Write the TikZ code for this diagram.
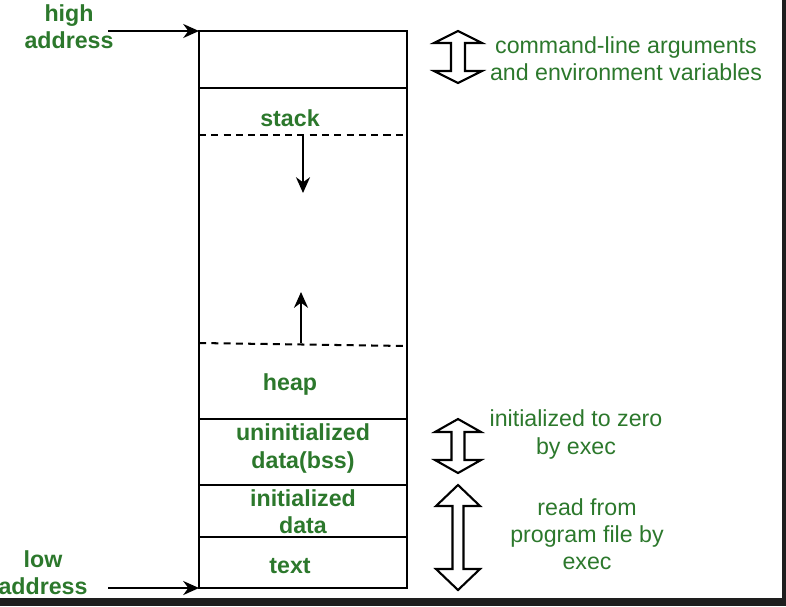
\documentclass[tikz,border=0pt]{standalone}
\usepackage{fontspec}
\setmainfont{Liberation Sans}
\usetikzlibrary{arrows.meta}

\definecolor{lblgreen}{RGB}{44,120,44}
\definecolor{edgedark}{RGB}{30,30,30}

% double flèche creuse : x, haut, bas, demi-largeur tête, demi-largeur tige, hauteur tête
\newcommand{\hollowDArrow}[6]{%
  \draw[line width=1.2pt, fill=white, line join=miter]
    (#1,#2) -- (#1+#4,#2+#6) -- (#1+#5,#2+#6) -- (#1+#5,#3-#6) -- (#1+#4,#3-#6)
    -- (#1,#3) -- (#1-#4,#3-#6) -- (#1-#5,#3-#6) -- (#1-#5,#2+#6) -- (#1-#4,#2+#6) -- cycle;}

\begin{document}
\begin{tikzpicture}[x=0.02cm, y=-0.02cm,
    seg/.style={line width=1.15pt},
    growarrow/.style={line width=1.15pt, -{Stealth[length=9pt, width=8pt]}},
    boxlbl/.style={text=lblgreen, font=\fontsize{13.2}{15.4}\selectfont\bfseries, align=center, inner sep=0pt},
    sidelbl/.style={text=lblgreen, font=\fontsize{13.2}{15.4}\selectfont, align=center, inner sep=0pt}]

    % --- cadre de l'image ---
    \useasboundingbox (0,0) rectangle (786,606);
    \fill[edgedark] (0,598) rectangle (786,606);
    \fill[edgedark] (782,0) rectangle (786,606);

    % ==============================================================
    % 1. BLOC MEMOIRE
    % ==============================================================
    \coordinate (TopL) at (199,31);    % haut gauche
    \coordinate (BotL) at (199,588);   % bas gauche

    \draw[seg] (199,31) rectangle (407,588);
    \draw[seg] (199,88)  -- (407,88);    % fin arguments
    \draw[seg] (199,419) -- (407,419);   % fin tas
    \draw[seg] (199,485) -- (407,485);   % fin bss
    \draw[seg] (199,537) -- (407,537);   % fin data

    % limites pile / tas (pointillés)
    \draw[seg, dash pattern=on 4pt off 3pt] (199,135) -- (407,135);
    \draw[seg, dash pattern=on 4pt off 3pt] (199,343) -- (407,346);

    % sens de croissance
    \coordinate (StackTop) at (303,135);
    \coordinate (StackEnd) at (303,193);
    \coordinate (HeapTop)  at (301,343);
    \coordinate (HeapEnd)  at (301,292);
    \draw[growarrow] (StackTop) -- (StackEnd);
    \draw[growarrow] (HeapTop) -- (HeapEnd);

    % étiquettes des segments
    \node[boxlbl] (stack) at (290,118.5) {stack};
    \node[boxlbl] (heap)  at (290,384.5) {heap};
    \node[boxlbl] (bss)   at (303,448.5) {uninitialized\\data(bss)};
    \node[boxlbl] (data)  at (303,511.5) {initialized\\data};
    \node[boxlbl] (text)  at (290,566) {text};

    % ==============================================================
    % 2. ADRESSES HAUTE / BASSE
    % ==============================================================
    \node[boxlbl] (high) at (69,26.5)  {high\\address};
    \node[boxlbl] (low)  at (43,572.5) {low\\address};

    \coordinate (HighStart) at (108,31);
    \coordinate (LowStart)  at (108,588);
    \draw[growarrow] (HighStart) -- (TopL);
    \draw[growarrow] (LowStart) -- (BotL);

    % ==============================================================
    % 3. ANNOTATIONS A DROITE
    % ==============================================================
    \hollowDArrow{458}{31}{83}{24}{7}{12}
    \hollowDArrow{458}{419}{473}{23}{6.5}{13}
    \hollowDArrow{458}{485}{590}{22}{5.5}{21}

    \node[sidelbl] (args) at (626,59)  {command-line arguments\\and environment variables};
    \node[sidelbl] (zero) at (576,434.5) {initialized to zero\\by exec};
    \node[sidelbl] (read) at (587,534) {read from\\program file by\\exec};
\end{tikzpicture}
\end{document}
